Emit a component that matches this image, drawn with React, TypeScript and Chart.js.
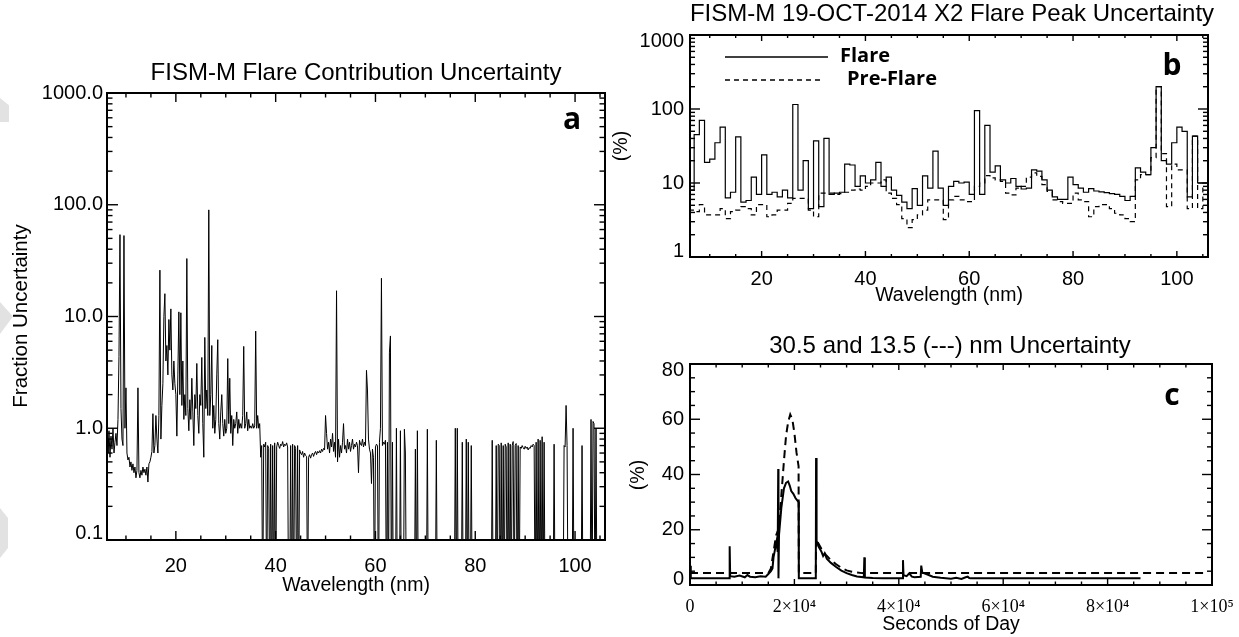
import React, { useEffect, useRef } from 'react';
import { Chart, registerables } from 'chart.js';

Chart.register(...registerables);

const SANS = '"Liberation Sans", Arial, Helvetica, sans-serif';
const SERIF = '"Liberation Serif", "Times New Roman", serif';
const BOLD = '"Open Sans", "Noto Sans", sans-serif';

// ---------------- Panel a : flare contribution uncertainty (fraction) ----------------
// wavelength grid (nm) of the plotted spectrum; 0 = below the plotted range
const A_WL_START = 6.2;
const A_WL_STEP = 0.2;
const A_UNCERT = [
  0.8, 0.6, 0.95, 0.55, 0.85,
  0.65, 1.0, 0.6, 0.75, 0.9,
  0.7, 1.2, 4.4, 54, 1.5,
  0.8, 0.7, 53, 1.0, 2.3,
  0.6, 0.52, 0.55, 0.45, 0.5,
  0.42, 0.48, 0.4, 0.45, 0.36,
  0.42, 2.3, 0.4, 0.36, 0.42,
  0.38, 0.45, 0.4, 0.43, 0.38,
  0.45, 0.33, 0.48, 0.5, 0.55,
  0.62, 1.35, 0.6, 0.7, 1.3,
  0.8, 0.6, 1.3, 26, 0.8,
  1.6, 2.5, 10, 16, 4.0,
  5.5, 3.0, 9.4, 5.0, 11.7,
  3.0, 2.2, 4.0, 2.5, 2.0,
  0.85, 3.0, 11, 2.0, 10.8,
  1.6, 4.0, 1.2, 2.0, 1.3,
  33, 1.5, 0.95, 1.8, 1.2,
  2.8, 1.4, 0.7, 2.0, 1.5,
  3.8, 1.3, 0.9, 2.0, 1.6,
  4.3, 1.1, 0.55, 6.5, 1.5,
  2.2, 1.3, 90, 1.3, 2.0,
  5.5, 1.0, 1.6, 0.9, 1.2,
  3.0, 6.2, 1.1, 0.8, 1.4,
  2.0, 1.1, 0.85, 1.2, 0.9,
  1.0, 4.2, 1.1, 2.8, 0.9,
  1.3, 0.7, 1.2, 1.0, 1.1,
  1.4, 0.9, 1.2, 1.0, 1.1,
  1.0, 1.3, 5.4, 1.0, 1.1,
  1.4, 0.95, 1.2, 1.0, 1.05,
  1.0, 1.1, 1.0, 1.05, 7.4,
  1.0, 1.3, 1.0, 1.1, 0.55,
  0.7, 0, 0.72, 0.68, 0.75,
  0, 0.7, 0.66, 0, 0.72,
  0, 0.7, 0, 0.74, 0,
  0.68, 0.75, 0.7, 0.66, 0.72,
  0.7, 0.76, 0.68, 0.72, 0.7,
  0.74, 0.68, 0, 0, 0.7,
  0, 0.72, 0, 0.7, 0.66,
  0, 0.7, 0, 0.64, 0.6,
  0.58, 0.62, 0.55, 0.6, 0.57,
  0.56, 0, 0.55, 0.58, 0.54,
  0.58, 0.6, 0.56, 0.6, 0.62,
  0.58, 0.62, 0.6, 0.63, 0.6,
  0.65, 0.62, 0.66, 0.64, 1.3,
  0.9, 0.65, 0.75, 0.6, 0.8,
  0.68, 0.9, 0.62, 0.75, 0.55,
  17, 0.5, 0.8, 0.55, 0.7,
  0.6, 0.75, 1.1, 0.65, 0.7,
  0.6, 0.8, 0.65, 0.75, 0.62,
  0.7, 0.8, 0.65, 0.72, 0.68,
  0.75, 0.7, 0.4, 0.78, 0.72,
  0.7, 0.8, 0.68, 0.75, 0.7,
  3.3, 2.2, 0.8, 0.65, 0.6,
  0.32, 0.65, 0.55, 0, 0.68,
  0.72, 0.7, 0, 0.75, 1.0,
  22, 0.7, 0.75, 0.72, 0.78,
  0, 0.75, 0, 4.8, 6.7,
  0, 0.75, 0, 0, 0,
  1.0, 0, 0, 0, 0.95,
  0, 0, 0, 0.98, 0.6,
  0, 0, 0, 0, 0,
  0, 0, 0, 0, 0.65,
  0, 0.95, 0, 0, 0,
  0, 0, 0, 0, 0,
  0, 0.98, 0, 0, 0,
  0, 0, 0, 0, 0,
  0.78, 0, 0, 0, 0,
  0, 0, 0, 0, 0,
  0, 0, 0, 0, 0,
  0, 0, 0, 0, 1.0,
  0, 1.0, 0, 0, 0,
  0, 0.75, 0, 0, 0,
  0.8, 0, 0.75, 0, 0,
  0.7, 0, 0, 0, 0,
  0, 0, 0, 0, 0,
  0, 0, 0, 0, 0,
  0, 0, 0, 0, 0,
  0, 0.78, 0, 0, 0,
  0.7, 0, 0.72, 0.7, 0,
  0.74, 0, 0.7, 0, 0.72,
  0.68, 0, 0.74, 0, 0.72,
  0, 0.7, 0.76, 0, 0.7,
  0.73, 0, 0.7, 0, 0.68,
  0.66, 0.7, 0.67, 0.65, 0.69,
  0.66, 0.68, 0.64, 0.67, 0.66,
  0.7, 0.68, 0.72, 0.7, 0,
  0.75, 0, 0.8, 0, 0.78,
  0, 0.84, 0, 0.75, 0,
  0, 0, 0, 0, 0,
  0, 0, 0, 0.72, 0,
  0, 0, 0, 0, 0,
  0, 0, 0, 0.7, 0.68,
  1.6, 0.7, 0, 0, 0,
  0, 0, 1.0, 0, 0,
  0, 0, 0, 0, 0,
  0, 0.7, 0, 0, 0,
  0, 0, 0, 0, 0,
  1.2, 0, 1.15, 1.1, 0,
  1.0, 0, 0, 0, 0,
  0, 0, 0, 0, 0,
];
const A_Y_TICKS = [0.1, 1, 10, 100, 1000];
const A_Y_LABELS = ['0.1', '1.0', '10.0', '100.0', '1000.0'];
const WL_TICKS = [20, 40, 60, 80, 100];
const WL_MINOR = [10, 15, 25, 30, 35, 45, 50, 55, 65, 70, 75, 85, 90, 95, 105];

// ---------------- Panel b : 1-nm bins, flare peak uncertainty (%) ----------------
const B_BIN_START = 6;
const B_FLARE = [
  8, 45, 70, 19, 21, 35, 57, 6.3, 7.5, 42,
  5.5, 5.8, 12, 7, 24, 7, 7.5, 6.5, 8, 6.3,
  115, 8, 20, 4.5, 37, 4.8, 40, 7, 7.3, 7.5,
  18, 17.5, 9, 12.5, 10, 11, 19, 9, 12, 8,
  6.8, 5.5, 4.5, 8.4, 5, 12.5, 8.5, 27, 8.5, 5,
  9, 10.5, 10, 10.3, 7, 95, 7, 60, 14, 17,
  11, 10, 11.5, 9, 8.3, 8.5, 15, 14.5, 11, 8,
  6.5, 6, 6, 12, 9.5, 8.5, 7.5, 8.4, 7.8, 7.6,
  7.4, 7.2, 7, 6.6, 5.8, 6.6, 16, 14, 13, 30,
  200, 20, 18, 35, 57, 50, 6.5, 43, 10, 10,
];
const B_PREFLARE = [
  4.3, 4.1, 5.1, 3.7, 3.7, 3.7, 4.5, 3.3, 4.1, 4.3,
  4.8, 4.5, 3.7, 5.1, 5.1, 3.5, 3.7, 4.3, 4.3, 5.3,
  6.2, 6.2, 6.2, 4.3, 3.5, 7.3, 7.3, 7.3, 7, 7.2,
  7.5, 8, 8.3, 8, 9, 10, 10, 11, 7.3, 6.2,
  5.1, 3.3, 2.5, 3.2, 3.7, 4.3, 5.9, 5.9, 5.9, 3.2,
  5.9, 6.6, 5.9, 5.6, 5.6, 9, 10, 12.6, 11.7, 11,
  10.5, 7.3, 6.9, 8.5, 9, 12, 13.7, 12.3, 9.5, 7.7,
  5.9, 5.6, 5.3, 5.3, 7.3, 5.9, 5.6, 3.5, 4.8, 5.1,
  5.1, 4.5, 3.9, 3.7, 3.3, 3.0, 11, 13, 13, 22,
  200, 25, 4.8, 18, 15, 15, 4.5, 43, 4.5, 10,
];
const B_Y_TICKS = [1, 10, 100, 1000];
const B_Y_LABELS = ['1', '10', '100', '1000'];

// ---------------- Panel c : time series (%) ----------------
const C_T_305 = [
  0, 150, 7500, 7600, 7700, 8500, 9500, 10500, 11000, 11500, 12500, 13500, 14500,
  15000, 15500, 15800, 16000, 16300, 16600, 16800, 16900, 16950, 17050, 17500, 18000,
  18400, 18800, 19100, 19400, 19800, 20200, 20800, 20850, 24100, 24150, 24250, 24600,
  25200, 25500, 25800, 26200, 27000, 28000, 29000, 30000, 31000, 32000, 33300, 33400,
  33500, 35000, 37000, 40700, 40800, 40900, 41500, 42000, 42500, 43000, 44200, 44300,
  44500, 45500, 46500, 48000, 50000, 51000, 52000, 52800, 53200, 53500, 53800, 86300,
];
const C_V_305 = [
  7, 2.4, 2.4, 14, 3.2, 3.0, 3.4, 2.8, 3.6, 3.0, 2.8, 3.2, 3.0,
  4.0, 5.0, 6.0, 10, 13, 16, 12, 42, 2.4, 18, 28, 35,
  37, 37.5, 36, 34, 33, 31.5, 30, 2.4, 2.4, 46, 16, 14,
  12, 10.5, 11.5, 9.5, 8, 6.5, 5.2, 4.3, 3.6, 3.1, 2.8, 10,
  2.7, 2.5, 2.4, 2.4, 9, 3.5, 3.2, 4.2, 3.0, 2.8, 3.0, 7,
  4.5, 3.8, 3.0, 2.6, 2.3, 2.6, 2.2, 2.8, 3.0, 2.5, 2.4, 2.4,
];
const C_T_135 = [
  0, 15000, 15500, 16000, 16500, 16900, 17200, 17600, 18000, 18400, 18800, 19200,
  19600, 20000, 20400, 20800, 20850, 24100, 24150, 24600, 25200, 26000, 27000, 28000,
  29000, 30000, 31000, 32000, 33000, 99000,
];
const C_V_135 = [
  4.3, 4.3, 6, 12, 18, 20, 25, 35, 45, 54, 59, 61.7,
  60, 55, 48, 43, 4.3, 4.3, 17, 15, 13, 11, 9, 7.5,
  6.2, 5.3, 4.8, 4.5, 4.3, 4.3,
];
const C_X_TICKS = [0, 20000, 40000, 60000, 80000, 100000];
const C_X_LABELS = ['0', '2×10⁴', '4×10⁴', '6×10⁴', '8×10⁴', '1×10⁵'];
const C_X_MINOR = [5000, 10000, 15000, 25000, 30000, 35000, 45000, 50000, 55000, 65000, 70000, 75000, 85000, 90000, 95000];
const C_Y_TICKS = [0, 20, 40, 60, 80];
const C_Y_MINOR = [5, 10, 15, 25, 30, 35, 45, 50, 55, 65, 70, 75];

function logMinor(ticks: number[]) {
  const out: number[] = [];
  for (let i = 0; i < ticks.length - 1; i++) for (let m = 2; m <= 9; m++) out.push(ticks[i] * m);
  return out;
}

type TextItem = { text: string; x: number; y: number; font: string; rotate?: boolean; align?: CanvasTextAlign };
type LegLine = { x1: number; x2: number; y: number; dash: number[]; width: number };

const framePlugin = {
  id: 'frame',
  afterDatasetsDraw(chart: any, _args: any, o: any) {
    const { ctx, chartArea: a, scales } = chart;
    const xs = scales.x;
    const ys = scales.y;
    ctx.save();
    ctx.strokeStyle = '#000';
    ctx.fillStyle = '#000';
    ctx.setLineDash([]);
    ctx.lineWidth = o.tickWidth;
    const seg = (x1: number, y1: number, x2: number, y2: number) => {
      ctx.beginPath();
      ctx.moveTo(x1, y1);
      ctx.lineTo(x2, y2);
      ctx.stroke();
    };
    const xs2: [number[], number][] = [[o.xMajor, o.xMajorLen], [o.xMinor, o.xMinorLen]];
    for (const [vals, len] of xs2) {
      for (const v of vals) {
        const p = xs.getPixelForValue(v);
        if (p < a.left - 0.5 || p > a.right + 0.5) continue;
        seg(p, a.bottom, p, a.bottom - len);
        seg(p, a.top, p, a.top + len);
      }
    }
    const ys2: [number[], number][] = [[o.yMajor, o.yMajorLen], [o.yMinor, o.yMinorLen]];
    for (const [vals, len] of ys2) {
      for (const v of vals) {
        const p = ys.getPixelForValue(v);
        if (p < a.top - 0.5 || p > a.bottom + 0.5) continue;
        seg(a.left, p, a.left + len, p);
        seg(a.right, p, a.right - len, p);
      }
    }
    ctx.lineWidth = o.boxWidth;
    ctx.strokeRect(a.left, a.top, a.right - a.left, a.bottom - a.top);

    for (const l of (o.lines || []) as LegLine[]) {
      ctx.lineWidth = l.width;
      ctx.setLineDash(l.dash);
      seg(l.x1, l.y, l.x2, l.y);
    }
    ctx.setLineDash([]);
    ctx.textBaseline = 'middle';
    for (const t of (o.texts || []) as TextItem[]) {
      ctx.font = t.font;
      ctx.textAlign = t.align || 'center';
      if (t.rotate) {
        ctx.save();
        ctx.translate(t.x, t.y);
        ctx.rotate(-Math.PI / 2);
        ctx.fillText(t.text, 0, 0);
        ctx.restore();
      } else {
        ctx.fillText(t.text, t.x, t.y);
      }
    }
    ctx.restore();
  },
};

function fixX(h: number) {
  return (s: any) => {
    s.height = h;
    s.paddingLeft = 0; s.paddingRight = 0; s.paddingTop = 0; s.paddingBottom = 0;
  };
}
function fixY(w: number) {
  return (s: any) => {
    s.width = w;
    s.paddingLeft = 0; s.paddingRight = 0; s.paddingTop = 0; s.paddingBottom = 0;
  };
}
function setTicks(vals: number[]) {
  return (s: any) => { s.ticks = vals.map((v) => ({ value: v })); };
}
function edgeLabel(vals: number[], labels: string[], shiftFirst: boolean, shiftLast: boolean) {
  return (v: any) => {
    const i = vals.indexOf(Number(v));
    const s = i >= 0 ? labels[i] : '';
    if (i === 0 && shiftFirst) return [s, ''];
    if (i === vals.length - 1 && shiftLast) return ['', s];
    return s;
  };
}

const baseOpts = {
  animation: false as const,
  responsive: false,
  events: [] as any[],
};

const TICK_SIZE = 20;

function configA(): any {
  const ox = 0, oy = 40;
  return {
    type: 'line',
    data: {
      datasets: [{
        data: A_UNCERT.map((v, i) => ({ x: A_WL_START + i * A_WL_STEP, y: v > 0 ? v : 0.02 })),
        borderColor: '#000', borderWidth: 1, pointRadius: 0, tension: 0, fill: false,
      }],
    },
    options: {
      ...baseOpts,
      layout: { padding: { left: 0, top: 53, right: 15, bottom: 47 } },
      plugins: {
        legend: { display: false }, title: { display: false }, tooltip: { enabled: false },
        frame: {
          xMajor: WL_TICKS, xMinor: WL_MINOR, xMajorLen: 9, xMinorLen: 4.5,
          yMajor: A_Y_TICKS, yMinor: logMinor(A_Y_TICKS), yMajorLen: 11, yMinorLen: 5.5,
          tickWidth: 1.4, boxWidth: 2,
          texts: [
            { text: 'FISM-M Flare Contribution Uncertainty', x: 356 - ox, y: 73 - oy, font: `24px ${SANS}` },
            { text: 'Wavelength (nm)', x: 356 - ox, y: 586 - oy, font: `19.5px ${SANS}` },
            { text: 'Fraction Uncertainty', x: 21 - ox, y: 316 - oy, font: `20.5px ${SANS}`, rotate: true },
            { text: 'a', x: 572 - ox, y: 120 - oy, font: `bold 30px ${BOLD}` },
          ],
        },
      },
      scales: {
        x: {
          type: 'linear', min: 6.2, max: 106,
          grid: { display: false, drawTicks: false }, border: { display: false },
          ticks: { font: { family: SANS, size: TICK_SIZE }, color: '#000', padding: 14, maxRotation: 0, autoSkip: false },
          afterBuildTicks: setTicks(WL_TICKS), afterFit: fixX(50),
        },
        y: {
          type: 'logarithmic', min: 0.1, max: 1000,
          grid: { display: false, drawTicks: false }, border: { display: false },
          ticks: {
            font: { family: SANS, size: TICK_SIZE, lineHeight: 0.7 }, color: '#000', padding: 4, autoSkip: false,
            callback: edgeLabel(A_Y_TICKS, A_Y_LABELS, true, false),
          },
          afterBuildTicks: setTicks(A_Y_TICKS), afterFit: fixY(107),
        },
      },
    },
    plugins: [framePlugin],
  };
}

function configB(): any {
  const ox = 600, oy = 0;
  const pts = (arr: number[]) => {
    const d = arr.map((v, i) => ({ x: B_BIN_START + i, y: v }));
    d.push({ x: B_BIN_START + arr.length, y: arr[arr.length - 1] });
    return d;
  };
  return {
    type: 'line',
    data: {
      datasets: [
        { data: pts(B_FLARE), borderColor: '#000', borderWidth: 1.2, pointRadius: 0, stepped: 'before', fill: false },
        { data: pts(B_PREFLARE), borderColor: '#000', borderWidth: 1.2, pointRadius: 0, stepped: 'before', borderDash: [5, 4], fill: false },
      ],
    },
    options: {
      ...baseOpts,
      layout: { padding: { left: 0, top: 35, right: 31, bottom: 13 } },
      plugins: {
        legend: { display: false }, title: { display: false }, tooltip: { enabled: false },
        frame: {
          xMajor: WL_TICKS, xMinor: WL_MINOR, xMajorLen: 6, xMinorLen: 3,
          yMajor: B_Y_TICKS, yMinor: logMinor(B_Y_TICKS), yMajorLen: 10, yMinorLen: 5,
          tickWidth: 1.4, boxWidth: 2,
          lines: [
            { x1: 725 - ox, x2: 828 - ox, y: 57 - oy, dash: [], width: 1.3 },
            { x1: 725 - ox, x2: 822 - ox, y: 80 - oy, dash: [5, 4], width: 1.3 },
          ],
          texts: [
            { text: 'FISM-M 19-OCT-2014 X2 Flare Peak Uncertainty', x: 952 - ox, y: 14 - oy, font: `24px ${SANS}` },
            { text: 'Wavelength (nm)', x: 949 - ox, y: 296 - oy, font: `19.5px ${SANS}` },
            { text: '(%)', x: 622 - ox, y: 146 - oy, font: `19.5px ${SANS}`, rotate: true },
            { text: 'b', x: 1172 - ox, y: 66 - oy, font: `bold 30px ${BOLD}` },
            { text: 'Flare', x: 840 - ox, y: 56 - oy, font: `bold 20px ${BOLD}`, align: 'left' },
            { text: 'Pre-Flare', x: 847 - ox, y: 79 - oy, font: `bold 20px ${BOLD}`, align: 'left' },
          ],
        },
      },
      scales: {
        x: {
          type: 'linear', min: 6.2, max: 106,
          grid: { display: false, drawTicks: false }, border: { display: false },
          ticks: { font: { family: SANS, size: TICK_SIZE }, color: '#000', padding: 10, maxRotation: 0, autoSkip: false },
          afterBuildTicks: setTicks(WL_TICKS), afterFit: fixX(40),
        },
        y: {
          type: 'logarithmic', min: 1, max: 1000,
          grid: { display: false, drawTicks: false }, border: { display: false },
          ticks: {
            font: { family: SANS, size: TICK_SIZE, lineHeight: 0.6 }, color: '#000', padding: 6, autoSkip: false,
            callback: edgeLabel(B_Y_TICKS, B_Y_LABELS, true, true),
          },
          afterBuildTicks: setTicks(B_Y_TICKS), afterFit: fixY(90),
        },
      },
    },
    plugins: [framePlugin],
  };
}

function configC(): any {
  const ox = 600, oy = 320;
  return {
    type: 'line',
    data: {
      datasets: [
        { data: C_T_305.map((t, i) => ({ x: t, y: C_V_305[i] })), borderColor: '#000', borderWidth: 2, pointRadius: 0, tension: 0, fill: false },
        { data: C_T_135.map((t, i) => ({ x: t, y: C_V_135[i] })), borderColor: '#000', borderWidth: 2, pointRadius: 0, tension: 0, borderDash: [8, 5], fill: false },
      ],
    },
    options: {
      ...baseOpts,
      layout: { padding: { left: 0, top: 44, right: 27, bottom: 12 } },
      plugins: {
        legend: { display: false }, title: { display: false }, tooltip: { enabled: false },
        frame: {
          xMajor: C_X_TICKS, xMinor: C_X_MINOR, xMajorLen: 6, xMinorLen: 3.5,
          yMajor: C_Y_TICKS, yMinor: C_Y_MINOR, yMajorLen: 10, yMinorLen: 5,
          tickWidth: 1.4, boxWidth: 2,
          texts: [
            { text: '30.5 and 13.5 (---) nm Uncertainty', x: 950 - ox, y: 346 - oy, font: `24px ${SANS}` },
            { text: 'Seconds of Day', x: 951 - ox, y: 625 - oy, font: `19.5px ${SANS}` },
            { text: '(%)', x: 639 - ox, y: 475 - oy, font: `19.5px ${SANS}`, rotate: true },
            { text: 'c', x: 1172 - ox, y: 396 - oy, font: `bold 30px ${BOLD}` },
          ],
        },
      },
      scales: {
        x: {
          type: 'linear', min: 0, max: 100000,
          grid: { display: false, drawTicks: false }, border: { display: false },
          ticks: {
            font: { family: SERIF, size: 18 }, color: '#000', padding: 11, maxRotation: 0, autoSkip: false,
            callback: (v: any) => { const i = C_X_TICKS.indexOf(Number(v)); return i >= 0 ? C_X_LABELS[i] : ''; },
          },
          afterBuildTicks: setTicks(C_X_TICKS), afterFit: fixX(40),
        },
        y: {
          type: 'linear', min: 0, max: 80,
          grid: { display: false, drawTicks: false }, border: { display: false },
          ticks: {
            font: { family: SANS, size: TICK_SIZE, lineHeight: 0.6 }, color: '#000', padding: 6, autoSkip: false,
            callback: edgeLabel(C_Y_TICKS, C_Y_TICKS.map(String), true, true),
          },
          afterBuildTicks: setTicks(C_Y_TICKS), afterFit: fixY(90),
        },
      },
    },
    plugins: [framePlugin],
  };
}

const SMUDGE: React.CSSProperties = { position: 'absolute', left: 0, background: '#e2e2e2' };

export default function App() {
  const ra = useRef<HTMLCanvasElement>(null);
  const rb = useRef<HTMLCanvasElement>(null);
  const rc = useRef<HTMLCanvasElement>(null);
  useEffect(() => {
    const charts = [
      new Chart(ra.current as HTMLCanvasElement, configA()),
      new Chart(rb.current as HTMLCanvasElement, configB()),
      new Chart(rc.current as HTMLCanvasElement, configC()),
    ];
    return () => charts.forEach((c) => c.destroy());
  }, []);
  return (
    <div style={{ position: 'absolute', left: 0, top: 0, width: 1239, height: 637, background: '#fff', overflow: 'hidden' }}>
      <div style={{ ...SMUDGE, top: 98, width: 9, height: 24, clipPath: 'polygon(0 0, 100% 30%, 100% 100%, 0 100%)' }} />
      <div style={{ ...SMUDGE, top: 302, width: 13, height: 32, clipPath: 'polygon(0 0, 100% 45%, 0 100%)' }} />
      <div style={{ ...SMUDGE, top: 508, width: 8, height: 50, clipPath: 'polygon(0 0, 100% 20%, 100% 80%, 0 100%)' }} />
      <canvas ref={ra} width={620} height={597} style={{ position: 'absolute', left: 0, top: 40, width: 620, height: 597 }} />
      <canvas ref={rb} width={639} height={310} style={{ position: 'absolute', left: 600, top: 0, width: 639, height: 310 }} />
      <canvas ref={rc} width={639} height={317} style={{ position: 'absolute', left: 600, top: 320, width: 639, height: 317 }} />
    </div>
  );
}
